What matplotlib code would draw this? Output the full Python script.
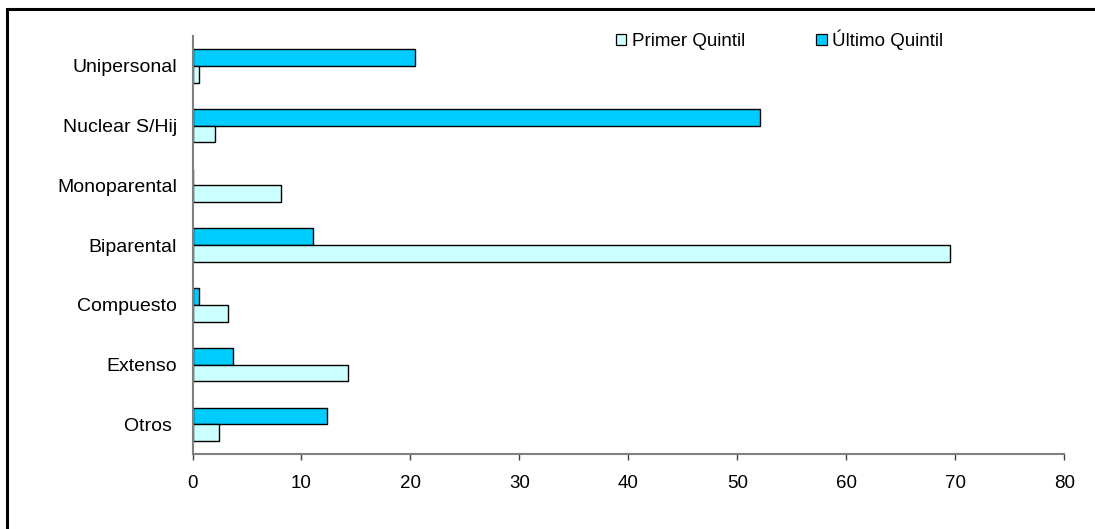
import numpy as np
import matplotlib.pyplot as plt
from matplotlib.patches import Rectangle, Patch

plt.rcParams['font.family'] = ['Liberation Sans', 'DejaVu Sans']

# ------------------ Datos ------------------
categorias = ["Unipersonal", "Nuclear S/Hij", "Monoparental", "Biparental",
              "Compuesto", "Extenso", "Otros "]
primer_quintil = [0.6, 2.1, 8.1, 69.5, 3.3, 14.3, 2.4]
ultimo_quintil = [20.4, 52.1, 0.0, 11.1, 0.6, 3.7, 12.3]
ticks_x = [0, 10, 20, 30, 40, 50, 60, 70, 80]

color_primer = "#CCFFFF"
color_ultimo = "#00CCFF"
gris = "#808080"

# ------------------ Figura ------------------
fig = plt.figure(figsize=(10.95, 5.29), dpi=100)
ax = fig.add_axes([0.1758, 0.1412, 0.7963, 0.7908])

y = np.arange(len(categorias))
h = 0.28
ax.barh(y - h/2, ultimo_quintil, height=h, color=color_ultimo,
        edgecolor="black", linewidth=1.0, label="Último Quintil")
ax.barh(y + h/2, primer_quintil, height=h, color=color_primer,
        edgecolor="black", linewidth=1.0, label="Primer Quintil")

ax.set_xlim(0, 80)
ax.set_ylim(len(categorias) - 0.5, -0.5)
ax.set_xticks(ticks_x)
ax.set_yticks(y)
ax.set_yticklabels(categorias, fontsize=14)
ax.tick_params(axis="y", length=0, pad=11)
ax.tick_params(axis="x", direction="out", length=4, width=1, color="#404040",
               labelsize=13.5, pad=11)

for s in ["top", "right"]:
    ax.spines[s].set_visible(False)
for s in ["left", "bottom"]:
    ax.spines[s].set_color(gris)
    ax.spines[s].set_linewidth(1.5)

# Leyenda (Primer primero, como en el original)
handles = [Patch(facecolor=color_primer, edgecolor="black", linewidth=0.9),
           Patch(facecolor=color_ultimo, edgecolor="black", linewidth=0.9)]
fig.legend(handles, ["Primer Quintil", "Último Quintil"], ncol=2,
           loc="center", bbox_to_anchor=(0.712, 0.924), frameon=False,
           fontsize=13.5, handlelength=0.55, handleheight=0.5,
           handletextpad=0.3, columnspacing=3.8, borderpad=0)

# Marco exterior
fig.patches.append(Rectangle((7/1095, -0.2), 1.2, 1.2 - 9/529,
                             transform=fig.transFigure, fill=False,
                             edgecolor="black", linewidth=2.2))

fig.savefig("out.png", dpi=100)
